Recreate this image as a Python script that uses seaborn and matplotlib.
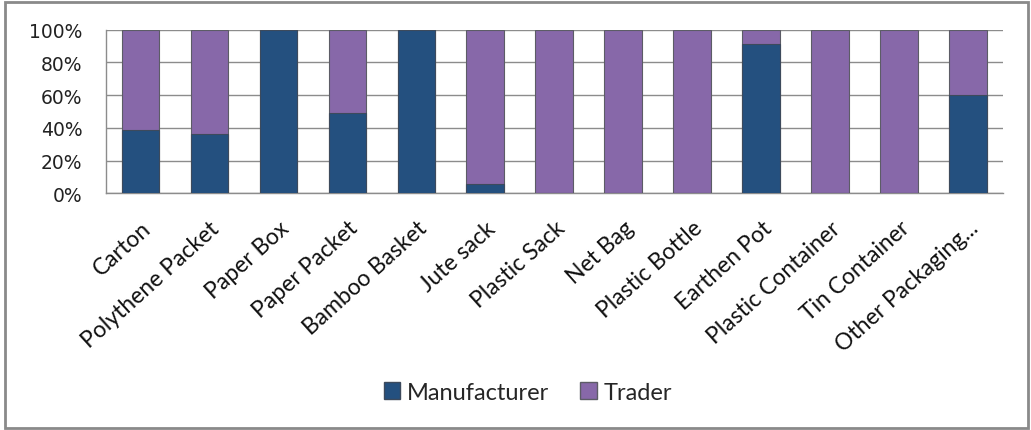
import pandas as pd
import seaborn as sns
from matplotlib import pyplot as plt
from matplotlib.patches import Rectangle, Patch
from matplotlib.transforms import ScaledTranslation

categories = ["Carton", "Polythene Packet", "Paper Box", "Paper Packet", "Bamboo Basket",
              "Jute sack", "Plastic Sack", "Net Bag", "Plastic Bottle", "Earthen Pot",
              "Plastic Container", "Tin Container", "Other Packaging..."]
manufacturer = [39, 36, 100, 49, 100, 6, 0, 0, 0, 91, 0, 0, 60]
trader = [61, 64, 0, 51, 0, 94, 100, 100, 100, 9, 100, 100, 40]
y_ticks = [0, 20, 40, 60, 80, 100]

blue = "#24507F"
purple = "#8768A9"

sns.set_style("white")
plt.rcParams['font.family'] = ['DejaVu Sans']
label_font = ['Lato', 'DejaVu Sans']

df = pd.DataFrame({"cat": categories, "Manufacturer": manufacturer, "Trader": trader})
df["total"] = df["Manufacturer"] + df["Trader"]

fig = plt.figure(figsize=(10.31, 4.31), dpi=100)
ax = fig.add_axes([0.1028, 0.549, 0.870, 0.380])

sns.barplot(data=df, x="cat", y="total", color=purple, width=0.55,
            edgecolor="#5c5c66", linewidth=0.8, saturation=1, ax=ax, zorder=3)
sns.barplot(data=df, x="cat", y="Manufacturer", color=blue, width=0.55,
            edgecolor="#3d4a5c", linewidth=0.8, saturation=1, ax=ax, zorder=4)

ax.set_ylim(0, 100)
ax.set_xlim(-0.5, len(categories) - 0.5)
ax.set_yticks(y_ticks)
ax.set_yticklabels([f"{v}%" for v in y_ticks], fontsize=13.5, color="#222222")
ax.set_xticks(range(len(categories)))
ax.set_xticklabels(categories, rotation=42, ha="right", rotation_mode="anchor",
                   fontsize=16.5, family=label_font, color="#111111")
shift = ScaledTranslation(-8 / 100, 0, fig.dpi_scale_trans)
for lab in ax.get_xticklabels():
    lab.set_transform(lab.get_transform() + shift)
ax.tick_params(axis="y", length=0, pad=17)
ax.tick_params(axis="x", length=0, pad=17)
ax.set_xlabel("")
ax.set_ylabel("")
ax.yaxis.grid(True, color="#8c8c8c", linewidth=1)
ax.set_axisbelow(True)
for s in ["top", "right"]:
    ax.spines[s].set_visible(False)
for s in ["left", "bottom"]:
    ax.spines[s].set_color("#8c8c8c")
    ax.spines[s].set_linewidth(1)

handles = [Patch(facecolor=blue, edgecolor="#3d4a5c"), Patch(facecolor=purple, edgecolor="#5c5c66")]
fig.legend(handles, ["Manufacturer", "Trader"], loc="center", bbox_to_anchor=(0.512, 0.088),
           ncol=2, frameon=False, handlelength=0.7, handleheight=0.7, handletextpad=0.3,
           columnspacing=1.3, prop={"family": label_font, "size": 17})

fig.patches.append(Rectangle((0.005, 0.004), 0.992, 0.99, transform=fig.transFigure,
                             fill=False, edgecolor="#8a8a8a", linewidth=2))

fig.savefig("out.png", dpi=100)
